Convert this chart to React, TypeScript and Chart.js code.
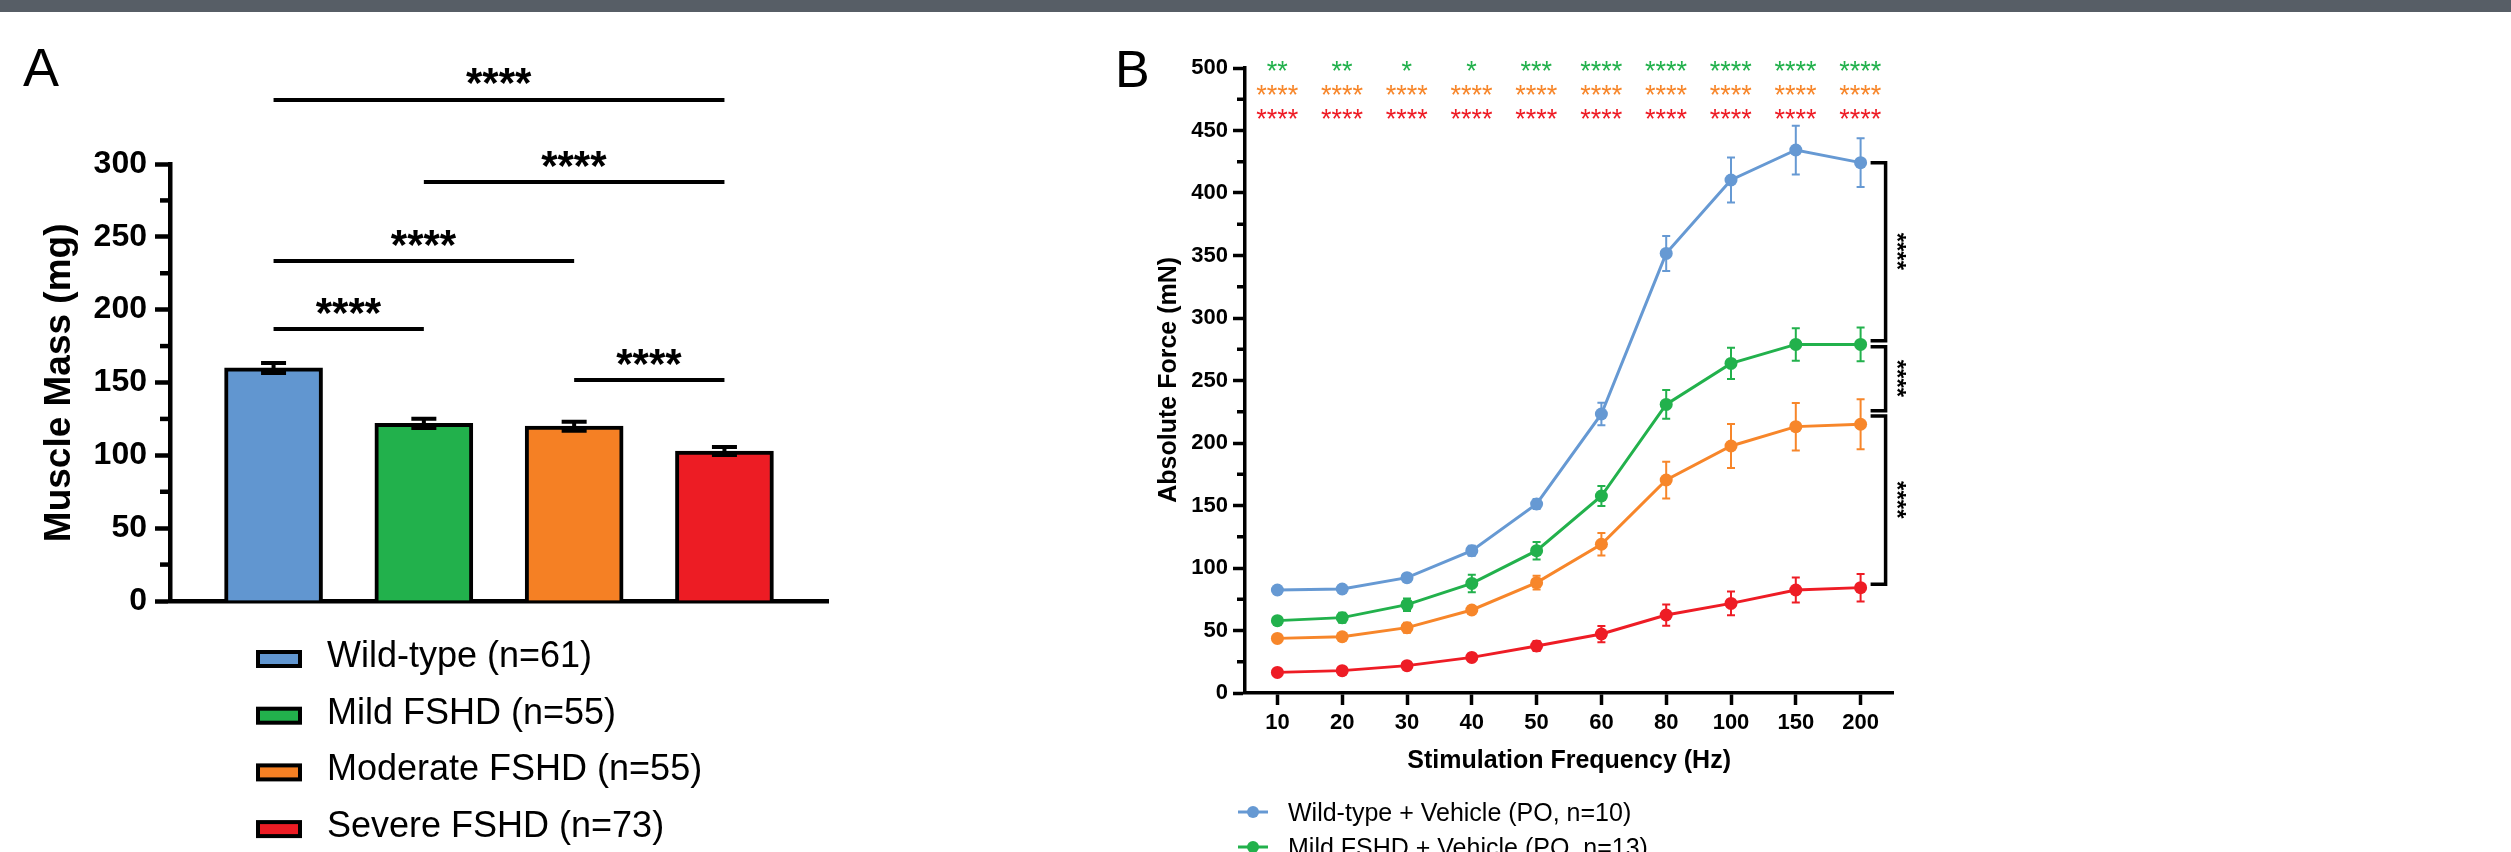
import React, { useEffect, useRef } from 'react';
import { Chart, registerables } from 'chart.js';

Chart.register(...registerables);

const FONT = "'Liberation Sans', Arial, Helvetica, sans-serif";

// ---------- Panel A: muscle mass ----------
const massGroups = ['Wild-type (n=61)', 'Mild FSHD (n=55)', 'Moderate FSHD (n=55)', 'Severe FSHD (n=73)'];
const massMeans = [160, 122, 120, 103];
const massErrors = [3.4, 3.2, 3.1, 2.8];
const groupColors = ['#6196d0', '#22b14c', '#f58024', '#ed1c24'];
const massAxisMax = 300;
const massMajorStep = 50;
const massMinorStep = 25;
const massBracketFrom = [0, 1, 0, 0, 2];
const massBracketTo = [3, 3, 2, 1, 3];
const massBracketLevel = [344, 287.6, 233.4, 186.7, 151.7];
const massBracketLabel = ['****', '****', '****', '****', '****'];

// ---------- Panel B: force-frequency ----------
const freqLabels = ['10', '20', '30', '40', '50', '60', '80', '100', '150', '200'];
const seriesNames = ['Wild-type + Vehicle', 'Mild FSHD + Vehicle', 'Moderate FSHD + Vehicle', 'Severe FSHD + Vehicle'];
const legendLabelsB = ['Wild-type + Vehicle (PO, n=10)', 'Mild FSHD + Vehicle (PO, n=13)'];
const wtForce = [82.4, 83.2, 92.3, 113.9, 151.2, 223.2, 351.7, 410.4, 434.4, 424.3];
const wtErr = [2.5, 2.5, 3, 4, 4, 9, 14, 18, 19.5, 19.5];
const mildForce = [57.9, 60.3, 70.7, 87.7, 113.9, 157.6, 230.9, 263.7, 278.9, 278.9];
const mildErr = [3, 4, 5, 7, 7, 8, 11.5, 12.5, 13, 13.5];
const modForce = [43.7, 45, 52.3, 66.4, 88.3, 119, 170.4, 197.6, 213.1, 215];
const modErr = [3, 3, 4, 3, 5.5, 9, 14.7, 17.6, 19, 20];
const sevForce = [16.5, 17.9, 21.9, 28.5, 37.6, 47.2, 62.4, 71.7, 82.4, 84.3];
const sevErr = [2, 2, 2, 3, 4, 6.5, 8.5, 9.5, 10, 11];
const forceAxisMax = 500;
const forceMajorStep = 50;
const forceMinorStep = 25;
const starsVsGreen = ['**', '**', '*', '*', '***', '****', '****', '****', '****', '****'];
const starsVsOrange = ['****', '****', '****', '****', '****', '****', '****', '****', '****', '****'];
const starsVsRed = ['****', '****', '****', '****', '****', '****', '****', '****', '****', '****'];
const starRowLevels = [501.8, 482.4, 463.2];
const sideBracketTop = [424.3, 277, 221.6];
const sideBracketBottom = [281.8, 225.8, 87];
const sideBracketLabel = ['****', '****', '****'];

const lineColors = ['#6699d3', '#22b14c', '#f7862a', '#ee1c25'];

function inkText(ctx: CanvasRenderingContext2D, text: string, cx: number, cy: number, angle = 0) {
  ctx.save();
  ctx.textAlign = 'left';
  ctx.textBaseline = 'alphabetic';
  const m = ctx.measureText(text);
  ctx.translate(cx, cy);
  ctx.rotate(angle);
  const ox = -(m.actualBoundingBoxRight - m.actualBoundingBoxLeft) / 2;
  const oy = (m.actualBoundingBoxAscent - m.actualBoundingBoxDescent) / 2;
  ctx.fillText(text, ox, oy);
  ctx.restore();
}

const panelAPlugin = {
  id: 'panelA',
  afterDatasetsDraw(chart: any) {
    const ctx = chart.ctx as CanvasRenderingContext2D;
    const xs = chart.scales.x;
    const ys = chart.scales.y;
    ctx.save();
    ctx.strokeStyle = '#000';
    ctx.lineWidth = 4;
    massMeans.forEach((m, i) => {
      const x = xs.getPixelForValue(i);
      const yt = ys.getPixelForValue(m + massErrors[i]);
      const yb = ys.getPixelForValue(m - massErrors[i]);
      ctx.beginPath();
      ctx.moveTo(x, yt); ctx.lineTo(x, yb);
      ctx.moveTo(x - 12.5, yt); ctx.lineTo(x + 12.5, yt);
      ctx.moveTo(x - 12.5, yb); ctx.lineTo(x + 12.5, yb);
      ctx.stroke();
    });
    ctx.restore();
  },
  afterDraw(chart: any) {
    const ctx = chart.ctx as CanvasRenderingContext2D;
    const xs = chart.scales.x;
    const ys = chart.scales.y;
    const area = chart.chartArea;
    ctx.save();
    ctx.fillStyle = '#000';
    ctx.strokeStyle = '#000';
    // minor ticks
    ctx.lineWidth = 4.5;
    for (let v = massMinorStep; v < massAxisMax; v += massMajorStep) {
      const y = ys.getPixelForValue(v);
      ctx.beginPath();
      ctx.moveTo(area.left, y);
      ctx.lineTo(area.left - 10, y);
      ctx.stroke();
    }
    // panel letter
    ctx.font = `54px ${FONT}`;
    inkText(ctx, 'A', 41, 67.5);
    // y title
    ctx.font = `bold 37px ${FONT}`;
    inkText(ctx, 'Muscle Mass (mg)', 60.5, 382.5, -Math.PI / 2);
    // brackets
    ctx.lineWidth = 4;
    ctx.font = `bold 42px ${FONT}`;
    massBracketLevel.forEach((lv, i) => {
      const y = ys.getPixelForValue(lv);
      const x1 = xs.getPixelForValue(massBracketFrom[i]);
      const x2 = xs.getPixelForValue(massBracketTo[i]);
      ctx.beginPath();
      ctx.moveTo(x1, y); ctx.lineTo(x2, y);
      ctx.stroke();
      inkText(ctx, massBracketLabel[i], (x1 + x2) / 2, y - 23.5);
    });
    // legend
    massGroups.forEach((g, i) => {
      const cy = 659 + i * 56.7;
      ctx.fillStyle = groupColors[i];
      ctx.fillRect(258, cy - 7, 42, 14);
      ctx.lineWidth = 4;
      ctx.strokeStyle = '#000';
      ctx.strokeRect(258, cy - 7, 42, 14);
      ctx.fillStyle = '#000';
      ctx.font = `36px ${FONT}`;
      ctx.textAlign = 'left';
      ctx.textBaseline = 'alphabetic';
      ctx.fillText(g, 327, cy + 8);
    });
    ctx.restore();
  },
};

const panelBPlugin = {
  id: 'panelB',
  beforeDatasetsDraw(chart: any) {
    const ctx = chart.ctx as CanvasRenderingContext2D;
    const xs = chart.scales.x;
    const ys = chart.scales.y;
    const errs = [wtErr, mildErr, modErr, sevErr];
    const vals = [wtForce, mildForce, modForce, sevForce];
    ctx.save();
    ctx.lineWidth = 2;
    vals.forEach((arr, s) => {
      ctx.strokeStyle = lineColors[s];
      arr.forEach((v, j) => {
        const x = xs.getPixelForValue(j);
        const yt = ys.getPixelForValue(v + errs[s][j]);
        const yb = ys.getPixelForValue(v - errs[s][j]);
        ctx.beginPath();
        ctx.moveTo(x, yt); ctx.lineTo(x, yb);
        ctx.moveTo(x - 4, yt); ctx.lineTo(x + 4, yt);
        ctx.moveTo(x - 4, yb); ctx.lineTo(x + 4, yb);
        ctx.stroke();
      });
    });
    ctx.restore();
  },
  afterDraw(chart: any) {
    const ctx = chart.ctx as CanvasRenderingContext2D;
    const xs = chart.scales.x;
    const ys = chart.scales.y;
    const area = chart.chartArea;
    ctx.save();
    ctx.fillStyle = '#000';
    ctx.strokeStyle = '#000';
    // minor ticks
    ctx.lineWidth = 3.5;
    for (let v = forceMinorStep; v < forceAxisMax; v += forceMajorStep) {
      const y = ys.getPixelForValue(v);
      ctx.beginPath();
      ctx.moveTo(area.left, y);
      ctx.lineTo(area.left - 8, y);
      ctx.stroke();
    }
    ctx.font = `52px ${FONT}`;
    inkText(ctx, 'B', 133, 68.5);
    ctx.font = `bold 25px ${FONT}`;
    inkText(ctx, 'Absolute Force (mN)', 168.5, 380, -Math.PI / 2);
    inkText(ctx, 'Stimulation Frequency (Hz)', (area.left + area.right) / 2, 761);
    // significance star rows
    const rows = [starsVsGreen, starsVsOrange, starsVsRed];
    const rowColors = [lineColors[1], lineColors[2], lineColors[3]];
    ctx.font = `27px ${FONT}`;
    rows.forEach((row, r) => {
      ctx.fillStyle = rowColors[r];
      const y = ys.getPixelForValue(starRowLevels[r]);
      row.forEach((txt, j) => {
        inkText(ctx, txt, xs.getPixelForValue(j), y);
      });
    });
    // side brackets
    const xLast = xs.getPixelForValue(freqLabels.length - 1);
    ctx.strokeStyle = '#000';
    ctx.fillStyle = '#000';
    ctx.lineWidth = 3.5;
    ctx.font = `bold 24px ${FONT}`;
    sideBracketTop.forEach((tv, i) => {
      const yt = ys.getPixelForValue(tv);
      const yb = ys.getPixelForValue(sideBracketBottom[i]);
      const xa = xLast + 10;
      const xv = xLast + 25;
      ctx.beginPath();
      ctx.moveTo(xa, yt); ctx.lineTo(xv, yt); ctx.lineTo(xv, yb); ctx.lineTo(xa, yb);
      ctx.stroke();
      inkText(ctx, sideBracketLabel[i], xLast + 40.5, (yt + yb) / 2, Math.PI / 2);
    });
    // legend
    ctx.font = `25px ${FONT}`;
    legendLabelsB.forEach((lab, i) => {
      const cy = 812 + i * 35;
      ctx.strokeStyle = lineColors[i];
      ctx.fillStyle = lineColors[i];
      ctx.lineWidth = 3;
      ctx.beginPath();
      ctx.moveTo(238, cy); ctx.lineTo(268, cy);
      ctx.stroke();
      ctx.beginPath();
      ctx.arc(253, cy, 6, 0, Math.PI * 2);
      ctx.fill();
      ctx.fillStyle = '#000';
      ctx.textAlign = 'left';
      ctx.textBaseline = 'alphabetic';
      ctx.fillText(lab, 288, cy + 9);
    });
    ctx.restore();
  },
};

export default function App() {
  const refA = useRef<HTMLCanvasElement | null>(null);
  const refB = useRef<HTMLCanvasElement | null>(null);

  useEffect(() => {
    Chart.defaults.font.family = FONT;
    const chartA = new Chart(refA.current as HTMLCanvasElement, {
      type: 'bar',
      data: {
        datasets: [
          {
            label: 'Muscle Mass',
            data: massMeans.map((v, i) => ({ x: i, y: v })),
            backgroundColor: groupColors,
            borderColor: '#000',
            borderWidth: 4,
            barThickness: 98,
          } as any,
        ],
      },
      options: {
        animation: false,
        responsive: false,
        maintainAspectRatio: false,
        layout: { padding: { left: 0, right: 172, top: 164, bottom: 231 } },
        plugins: { legend: { display: false }, tooltip: { enabled: false } },
        scales: {
          x: {
            type: 'linear',
            min: -0.689,
            max: 3.689,
            offset: false,
            z: 1,
            grid: { display: true, offset: false, drawOnChartArea: false, drawTicks: false },
            ticks: { display: false },
            border: { display: true, color: '#000', width: 4.5 },
            afterFit: (s: any) => { s.height = 20; },
          } as any,
          y: {
            min: 0,
            max: massAxisMax,
            z: 1,
            ticks: { stepSize: massMajorStep, color: '#000', padding: 8, font: { size: 32, weight: 'bold', family: FONT } },
            grid: { drawOnChartArea: false, drawTicks: true, tickLength: 15, tickWidth: 4.5, tickColor: '#000' },
            border: { display: true, color: '#000', width: 4.5 },
            afterFit: (s: any) => { s.width = 170; },
          } as any,
        },
      },
      plugins: [panelAPlugin],
    });

    const seriesVals = [wtForce, mildForce, modForce, sevForce];
    const chartB = new Chart(refB.current as HTMLCanvasElement, {
      type: 'line',
      data: {
        labels: freqLabels,
        datasets: seriesVals.map((vals, i) => ({
          label: seriesNames[i],
          data: vals,
          borderColor: lineColors[i],
          backgroundColor: lineColors[i],
          pointBackgroundColor: lineColors[i],
          pointBorderWidth: 0,
          pointRadius: 6.5,
          borderWidth: 3,
          tension: 0,
          fill: false,
          clip: false as any,
        })),
      },
      options: {
        animation: false,
        responsive: false,
        maintainAspectRatio: false,
        layout: { padding: { left: 0, right: 618, top: 68, bottom: 99 } },
        plugins: { legend: { display: false }, tooltip: { enabled: false } },
        scales: {
          x: {
            type: 'category',
            offset: true,
            grid: { drawOnChartArea: false, drawTicks: true, tickLength: 12, tickWidth: 3.5, tickColor: '#000' },
            border: { display: true, color: '#000', width: 3.5 },
            ticks: { color: '#000', padding: 5, autoSkip: false, maxRotation: 0, font: { size: 22, weight: 'bold', family: FONT } },
            afterFit: (s: any) => { s.height = 60; },
          } as any,
          y: {
            min: 0,
            max: forceAxisMax,
            ticks: { stepSize: forceMajorStep, color: '#000', padding: 5, font: { size: 22, weight: 'bold', family: FONT } },
            grid: { drawOnChartArea: false, drawTicks: true, tickLength: 12, tickWidth: 3.5, tickColor: '#000' },
            border: { display: true, color: '#000', width: 3.5 },
            afterFit: (s: any) => { s.width = 245; },
          } as any,
        },
      },
      plugins: [panelBPlugin],
    });

    return () => {
      chartA.destroy();
      chartB.destroy();
    };
  }, []);

  return (
    <div style={{ position: 'fixed', left: 0, top: 0, width: 2511, height: 852, background: '#fff', overflow: 'hidden' }}>
      <canvas ref={refA} width={1000} height={852} style={{ position: 'absolute', left: 0, top: 0, width: 1000, height: 852 }} />
      <canvas ref={refB} width={1511} height={852} style={{ position: 'absolute', left: 1000, top: 0, width: 1511, height: 852 }} />
      <div style={{ position: 'absolute', left: 0, top: 0, width: 2511, height: 12, background: '#575e66' }} />
    </div>
  );
}
